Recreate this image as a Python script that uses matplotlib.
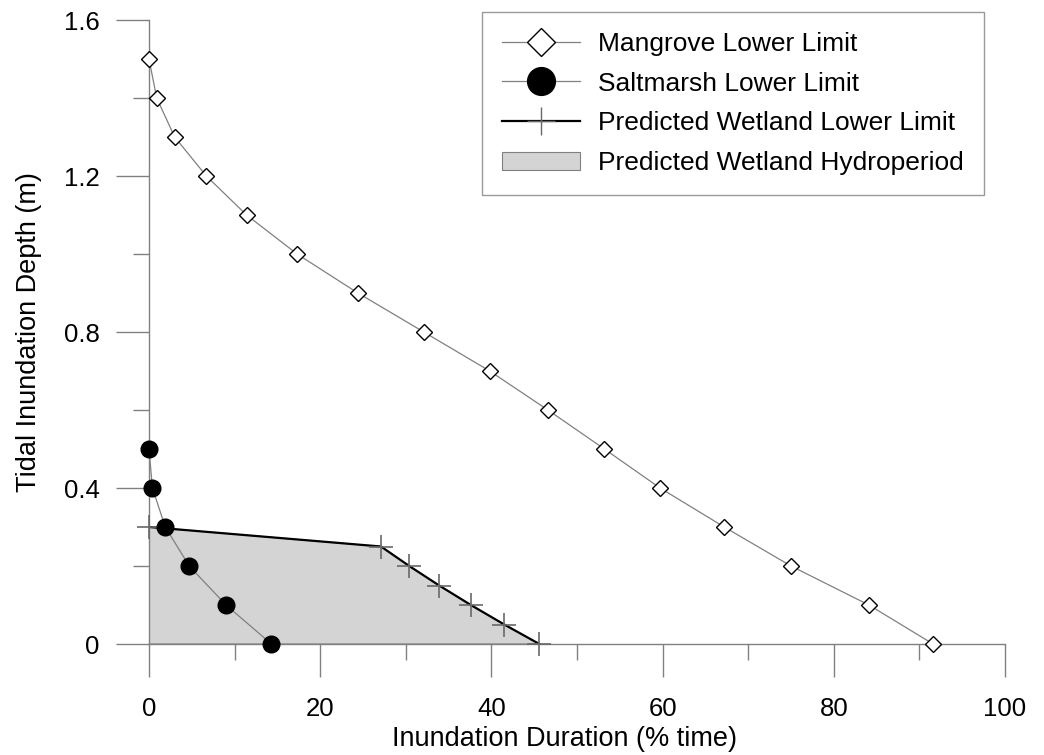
import matplotlib.pyplot as plt
from matplotlib.patches import Patch
from matplotlib.lines import Line2D

# Mangrove lower limit (inundation duration %, depth m)
mangrove_x = [0.0, 0.9, 3.0, 6.7, 11.4, 17.3, 24.4, 32.1, 39.8, 46.6, 53.2, 59.7, 67.2, 75.0, 84.1, 91.6]
mangrove_y = [1.5, 1.4, 1.3, 1.2, 1.1, 1.0, 0.9, 0.8, 0.7, 0.6, 0.5, 0.4, 0.3, 0.2, 0.1, 0.0]

# Saltmarsh lower limit
salt_x = [0.0, 0.4, 1.9, 4.7, 9.0, 14.3]
salt_y = [0.5, 0.4, 0.3, 0.2, 0.1, 0.0]

# Predicted wetland lower limit
wet_x = [0.0, 27.1, 30.4, 33.9, 37.6, 41.5, 45.6]
wet_y = [0.3, 0.25, 0.2, 0.15, 0.1, 0.05, 0.0]

plt.rcParams['font.family'] = ['Liberation Sans', 'DejaVu Sans']
FS = 19.5
GREY = '#808080'
W, H = 1044, 755

fig = plt.figure(figsize=(W / 100, H / 100), dpi=100)
ax = fig.add_axes([149 / W, 1 - 644 / H, 856 / W, 624 / H])

# hydroperiod area under the predicted lower limit
ax.fill([0.0] + wet_x, [0.0] + wet_y, facecolor='#d4d4d4', edgecolor=GREY,
        linewidth=0.8, zorder=1)

ax.plot(wet_x, wet_y, color='black', linewidth=1.6, zorder=2)
ax.plot(wet_x, wet_y, linestyle='none', marker='+', markersize=17,
        markeredgecolor='#686868', markeredgewidth=1.2, zorder=3, clip_on=False)

ax.plot(mangrove_x, mangrove_y, color=GREY, linewidth=0.9, marker='D',
        markersize=8, markerfacecolor='white', markeredgecolor='black',
        markeredgewidth=1.0, zorder=4, clip_on=False)

ax.plot(salt_x, salt_y, color=GREY, linewidth=0.9, marker='o',
        markersize=12, markerfacecolor='black', markeredgecolor='black',
        zorder=5, clip_on=False)

ax.set_xlim(0, 100)
ax.set_ylim(0, 1.6)
ax.set_xticks([0, 20, 40, 60, 80, 100])
ax.set_xticks([10, 30, 50, 70, 90], minor=True)
ax.set_yticks([0, 0.4, 0.8, 1.2, 1.6])
ax.set_yticks([0.2, 0.6, 1.0, 1.4], minor=True)
ax.set_yticklabels(['0', '0.4', '0.8', '1.2', '1.6'])

for s in ['top', 'right']:
    ax.spines[s].set_visible(False)
for s in ['left', 'bottom']:
    ax.spines[s].set_color(GREY)
    ax.spines[s].set_linewidth(1.0)

ax.tick_params(which='major', length=23.5, width=1.0, color=GREY,
               labelsize=18.5, direction='out')
ax.tick_params(axis='x', which='major', pad=15)
ax.tick_params(axis='y', which='major', pad=12)
ax.tick_params(which='minor', length=11.5, width=1.0, color=GREY, direction='out')

ax.set_xlabel('Inundation Duration (% time)', fontsize=FS, labelpad=0)
ax.xaxis.set_label_coords(0.485, -0.131)
ax.set_ylabel('Tidal Inundation Depth (m)', fontsize=FS, labelpad=16)

handles = [
    Line2D([], [], color=GREY, linewidth=0.9, marker='D', markersize=14,
           markerfacecolor='white', markeredgecolor='black'),
    Line2D([], [], color=GREY, linewidth=0.9, marker='o', markersize=20,
           markerfacecolor='black', markeredgecolor='black'),
    Line2D([], [], color='black', linewidth=1.6, marker='+', markersize=20,
           markeredgecolor='#686868', markeredgewidth=1.0),
    Patch(facecolor='#d4d4d4', edgecolor=GREY, linewidth=0.8),
]
labels = ['Mangrove Lower Limit', 'Saltmarsh Lower Limit',
          'Predicted Wetland Lower Limit', 'Predicted Wetland Hydroperiod']
leg = fig.legend(handles, labels, loc='upper left', bbox_to_anchor=(482 / W, 1 - 12 / H),
                 fontsize=19, frameon=True, fancybox=False, edgecolor=GREY,
                 handlelength=2.95, labelspacing=0.6, borderpad=0.75,
                 handletextpad=0.7, borderaxespad=0)
leg.get_frame().set_linewidth(1.0)

fig.savefig('out.png', dpi=100)
